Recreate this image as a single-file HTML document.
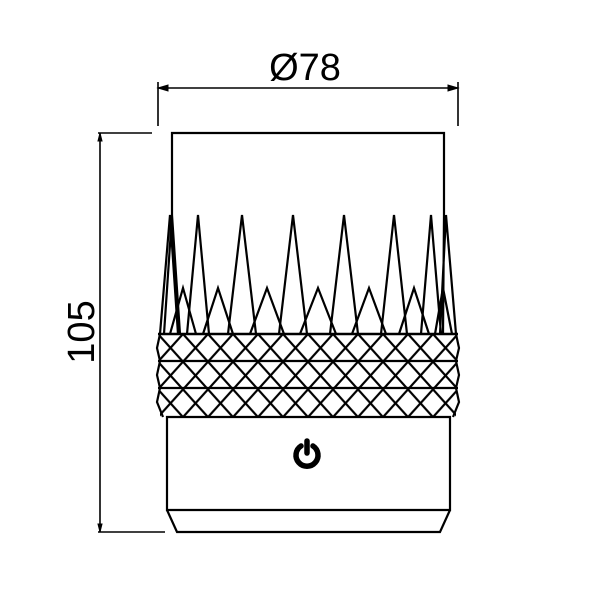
<!DOCTYPE html>
<html><head><style>body{margin:0;background:#fff}</style></head><body>
<svg width="600" height="600" viewBox="0 0 600 600" xmlns="http://www.w3.org/2000/svg">
<defs>
<pattern id="dia" x="158" y="334" width="25" height="27.7" patternUnits="userSpaceOnUse">
<path d="M0 0L25 27.7M25 0L0 27.7" stroke="#000" stroke-width="2.2" fill="none"/>
</pattern>
</defs>
<g stroke="#000" fill="none" stroke-width="2.2">
<line x1="158" y1="88" x2="458" y2="88" stroke-width="1.6"/>
<line x1="158" y1="82" x2="158" y2="126" stroke-width="1.6"/>
<line x1="458" y1="82" x2="458" y2="126" stroke-width="1.6"/>
<path d="M158 88l10-3v6zM458 88l-10-3v6z" fill="#000" stroke-width="1"/>
<line x1="98" y1="133" x2="152" y2="133" stroke-width="1.6"/>
<line x1="100" y1="133" x2="100" y2="532" stroke-width="1.6"/>
<line x1="98" y1="532" x2="165" y2="532" stroke-width="1.6"/>
<path d="M100 133l-2 8h4zM100 532l-2-8h4z" fill="#000" stroke-width="1"/>
<path d="M172 215V133H444V215"/>
<rect x="160" y="334" width="296" height="83" fill="url(#dia)" stroke="none"/>
<line x1="158" y1="334" x2="458" y2="334" stroke-width="2.5"/>
<line x1="158" y1="361" x2="458" y2="361"/>
<line x1="158" y1="388" x2="458" y2="388"/>
<path d="M160 334l-3 14 3 13-3 14 3 13-3 14 6 15M456 334l3 14-3 13 3 14-3 13 3 14-6 15"/>
<path d="M170 334L183 288L196 334M203 334L218 288L233 334M250 334L267 288L284 334M300 334L318 288L336 334M352 334L369 288L386 334M399 334L414 288L429 334M435 334L443 288L452 334"/>
<path d="M160 334L170 215L178 334M164 334L172 215L180 334M187 334L198 215L209 334M228 334L242 215L256 334M279 334L293 215L307 334M330 334L344 215L358 334M381 334L394 215L407 334M421 334L431 215L441 334M440 334L446 215L456 334M443 334L444 215"/>
<path d="M167 417H450V510H167Z"/>
<path d="M167 510L177 532H440L450 510"/>
</g>
<g stroke="#000" fill="none" stroke-width="5.5" stroke-linecap="round">
<path d="M301 446A11 11 0 1 0 313 446"/>
<line x1="307" y1="441" x2="307" y2="453"/>
</g>
<text x="305" y="80" font-family="Liberation Sans, sans-serif" font-size="38" text-anchor="middle">Ø78</text>
<text transform="translate(94 332) rotate(-90)" font-family="Liberation Sans, sans-serif" font-size="38" text-anchor="middle">105</text>
</svg>
</body></html>
